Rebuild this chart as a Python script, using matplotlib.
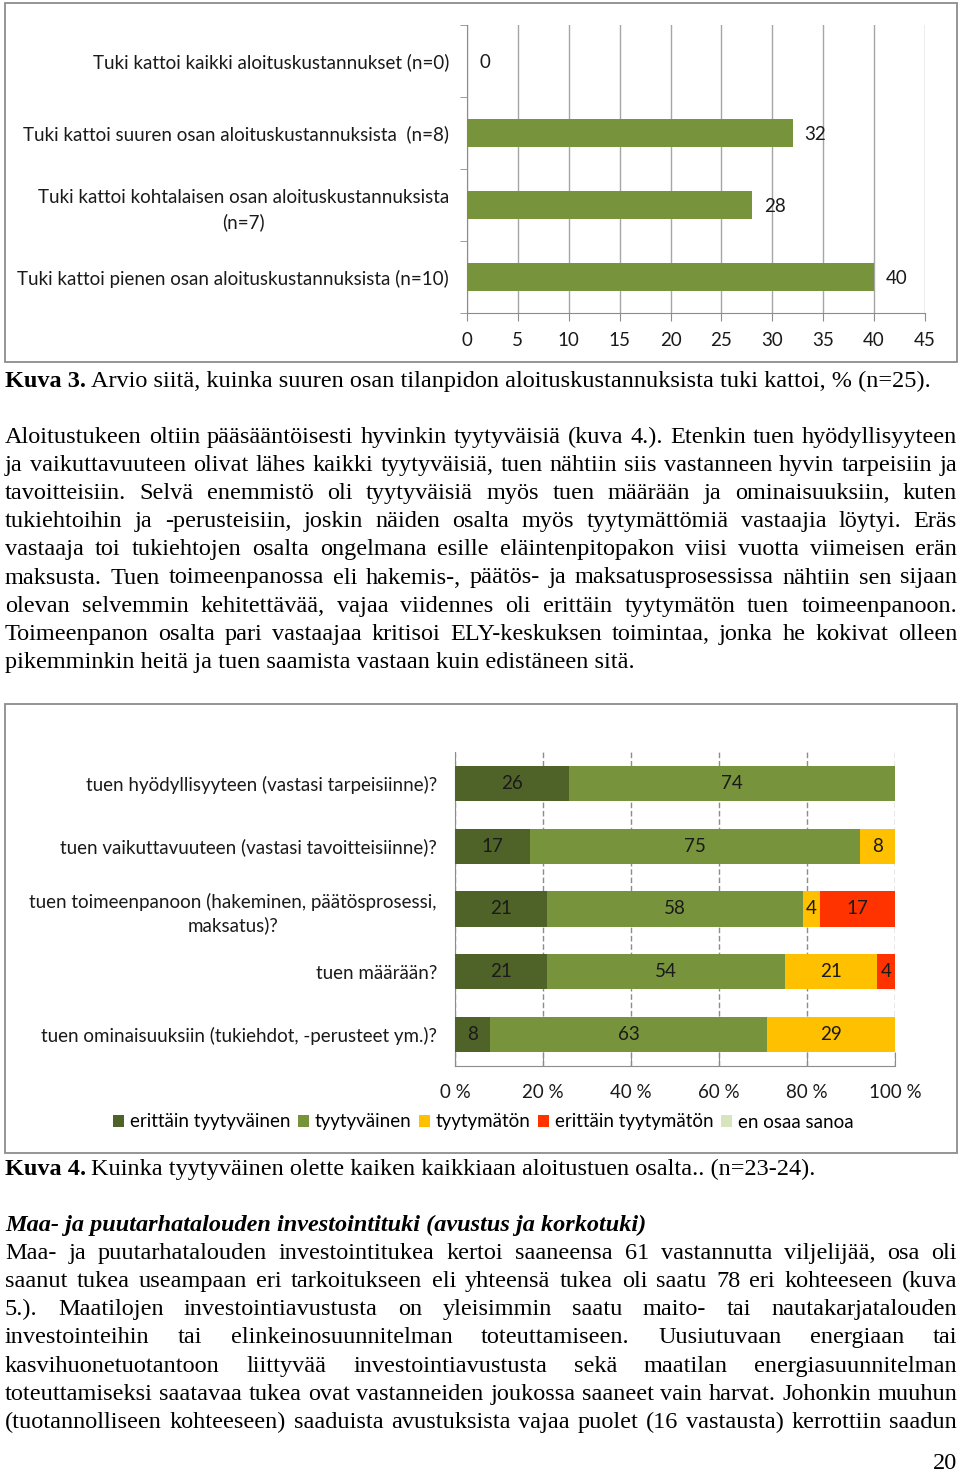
import numpy as np
import matplotlib
matplotlib.use("Agg")
import matplotlib.pyplot as plt
from matplotlib.patches import Rectangle, Patch

W, H = 960, 1473

# --- Kuva 3 data ---
cost_labels = [
    "Tuki kattoi kaikki aloituskustannukset (n=0)",
    "Tuki kattoi suuren osan aloituskustannuksista  (n=8)",
    "Tuki kattoi kohtalaisen osan aloituskustannuksista\n(n=7)",
    "Tuki kattoi pienen osan aloituskustannuksista (n=10)",
]
cost_values = [0, 32, 28, 40]
cost_ticks = [0, 5, 10, 15, 20, 25, 30, 35, 40, 45]

# --- Kuva 4 data ---
sat_labels = [
    "tuen hyödyllisyyteen (vastasi tarpeisiinne)?",
    "tuen vaikuttavuuteen (vastasi tavoitteisiinne)?",
    "tuen toimeenpanoon (hakeminen, päätösprosessi,\nmaksatus)?",
    "tuen määrään?",
    "tuen ominaisuuksiin (tukiehdot, -perusteet ym.)?",
]
sat_series = ["erittäin tyytyväinen", "tyytyväinen", "tyytymätön",
              "erittäin tyytymätön", "en osaa sanoa"]
very_satisfied = [26, 17, 21, 21, 8]
satisfied = [74, 75, 58, 54, 63]
unsatisfied = [0, 8, 4, 21, 29]
very_unsatisfied = [0, 0, 17, 4, 0]
dont_know = [0, 0, 0, 0, 0]
sat_ticks = [0, 20, 40, 60, 80, 100]
sat_colors = ["#4F6228", "#77933C", "#FFC000", "#FF3300", "#D7E4BD"]

# --- body text ---
para1 = [
    "Aloitustukeen oltiin pääsääntöisesti hyvinkin tyytyväisiä (kuva 4.). Etenkin tuen hyödyllisyyteen",
    "ja vaikuttavuuteen olivat lähes kaikki tyytyväisiä, tuen nähtiin siis vastanneen hyvin tarpeisiin ja",
    "tavoitteisiin. Selvä enemmistö oli tyytyväisiä myös tuen määrään ja ominaisuuksiin, kuten",
    "tukiehtoihin ja -perusteisiin, joskin näiden osalta myös tyytymättömiä vastaajia löytyi. Eräs",
    "vastaaja toi tukiehtojen osalta ongelmana esille eläintenpitopakon viisi vuotta viimeisen erän",
    "maksusta. Tuen toimeenpanossa eli hakemis-, päätös- ja maksatusprosessissa nähtiin sen sijaan",
    "olevan selvemmin kehitettävää, vajaa viidennes oli erittäin tyytymätön tuen toimeenpanoon.",
    "Toimeenpanon osalta pari vastaajaa kritisoi ELY-keskuksen toimintaa, jonka he kokivat olleen",
    "pikemminkin heitä ja tuen saamista vastaan kuin edistäneen sitä.",
]
para2 = [
    "Maa- ja puutarhatalouden investointitukea kertoi saaneensa 61 vastannutta viljelijää, osa oli",
    "saanut tukea useampaan eri tarkoitukseen eli yhteensä tukea oli saatu 78 eri kohteeseen (kuva",
    "5.). Maatilojen investointiavustusta on yleisimmin saatu maito- tai nautakarjatalouden",
    "investointeihin tai elinkeinosuunnitelman toteuttamiseen. Uusiutuvaan energiaan tai",
    "kasvihuonetuotantoon liittyvää investointiavustusta sekä maatilan energiasuunnitelman",
    "toteuttamiseksi saatavaa tukea ovat vastanneiden joukossa saaneet vain harvat. Johonkin muuhun",
    "(tuotannolliseen kohteeseen) saaduista avustuksista vajaa puolet (16 vastausta) kerrottiin saadun",
]

CHART_FONT = "Lato"
CHART_FS = 13.5
SERIF = "Liberation Serif"
BODY_FS = 17.5
TXT = "#1a1a1a"


def rect(l, t, r, b):
    """pixel box -> figure fraction"""
    return [l / W, 1 - b / H, (r - l) / W, (b - t) / H]


fig = plt.figure(figsize=(W / 100, H / 100), dpi=100)
page = fig.add_axes([0, 0, 1, 1])
page.set_xlim(0, W)
page.set_ylim(H, 0)
page.axis("off")
renderer = fig.canvas.get_renderer()

# chart frames
for (x, y, w, h) in [(5, 3, 952, 359), (5, 704, 952, 449)]:
    page.add_patch(Rectangle((x, y), w, h, fill=False, ec="#8c8c8c", lw=1.3))

# ---------------- Kuva 3 ----------------
ax1 = fig.add_axes(rect(467, 25, 925, 313))
ypos = np.arange(len(cost_values))
ax1.barh(ypos, cost_values, height=0.4, color="#77933C", zorder=3)
ax1.set_xlim(0, 45)
ax1.set_ylim(len(cost_values) - 0.5, -0.5)
ax1.set_xticks(cost_ticks)
ax1.set_yticks(ypos)
ax1.set_yticklabels(cost_labels, ha="right", multialignment="center",
                    linespacing=1.45)
ax1.set_yticks(np.arange(-0.5, len(cost_values)), minor=True)
ax1.tick_params(axis="y", which="major", length=0, pad=13)
ax1.tick_params(axis="y", which="minor", length=5, color="#8c8c8c", direction="out")
ax1.tick_params(axis="x", length=6, color="#8c8c8c", pad=8)
ax1.grid(axis="x", color="#a6a6a6", lw=1.0, zorder=0)
for s in ["top", "right"]:
    ax1.spines[s].set_visible(False)
for s in ["left", "bottom"]:
    ax1.spines[s].set_color("#8c8c8c")
for lab in ax1.get_xticklabels() + ax1.get_yticklabels():
    lab.set_fontfamily(CHART_FONT)
    lab.set_fontsize(CHART_FS)
    lab.set_color(TXT)
for y, v in zip(ypos, cost_values):
    ax1.annotate(str(v), (v, y), xytext=(12, -2), textcoords="offset pixels",
                 ha="left", va="center", fontfamily=CHART_FONT,
                 fontsize=CHART_FS, color=TXT)

# ---------------- Kuva 4 ----------------
ax2 = fig.add_axes(rect(455, 752, 895, 1066))
ypos2 = np.arange(len(sat_labels))
left = np.zeros(len(sat_labels))
series = [very_satisfied, satisfied, unsatisfied, very_unsatisfied, dont_know]
for vals, col in zip(series, sat_colors):
    vals = np.array(vals, dtype=float)
    ax2.barh(ypos2, vals, left=left, height=0.56, color=col, zorder=3)
    for y, l, v in zip(ypos2, left, vals):
        if v > 0:
            ax2.text(l + v / 2, y, f"{v:.0f}", ha="center", va="center",
                     fontfamily=CHART_FONT, fontsize=CHART_FS, color=TXT, zorder=4)
    left += vals
ax2.set_xlim(0, 100)
ax2.set_ylim(len(sat_labels) - 0.5, -0.5)
ax2.set_xticks(sat_ticks)
ax2.set_xticklabels([f"{t} %" for t in sat_ticks])
ax2.set_yticks(ypos2)
ax2.set_yticklabels(sat_labels, ha="right", multialignment="center",
                    linespacing=1.4)
ax2.tick_params(axis="y", length=0, pad=13)
ax2.tick_params(axis="x", length=10, direction="in", color="#8c8c8c", pad=13)
ax2.grid(axis="x", color="#8c8c8c", lw=1.0, ls=(0, (4, 2)), zorder=0)
for s in ["top", "right"]:
    ax2.spines[s].set_visible(False)
for s in ["left", "bottom"]:
    ax2.spines[s].set_color("#8c8c8c")
for lab in ax2.get_xticklabels() + ax2.get_yticklabels():
    lab.set_fontfamily(CHART_FONT)
    lab.set_fontsize(CHART_FS)
    lab.set_color(TXT)

handles = [Patch(facecolor=c, edgecolor="none") for c in sat_colors]
fig.legend(handles, sat_series, loc="center", bbox_to_anchor=(483 / W, 1 - 1122 / H),
           ncol=5, frameon=False, handlelength=0.6, handleheight=0.6,
           handletextpad=0.3, columnspacing=0.4,
           prop={"family": CHART_FONT, "size": CHART_FS})


# ---------------- text ----------------
def put_line(line, y, x0=5, x1=957, last=False, **kw):
    kw = {"fontfamily": SERIF, "fontsize": BODY_FS, "color": "black",
          "va": "baseline", **kw}
    if last:
        page.text(x0, y, line, **kw)
        return
    words = line.split(" ")
    texts = [page.text(0, y, w, **kw) for w in words]
    widths = [t.get_window_extent(renderer).width for t in texts]
    gap = (x1 - x0 - sum(widths)) / max(len(words) - 1, 1)
    x = x0
    for t, w in zip(texts, widths):
        t.set_x(x)
        x += w + gap


def caption(bold, rest, y):
    t = page.text(5, y, bold, fontfamily=SERIF, fontsize=BODY_FS, fontweight="bold",
                  va="baseline")
    w = t.get_window_extent(renderer).width
    page.text(5 + w + 5, y, rest, fontfamily=SERIF, fontsize=BODY_FS, va="baseline")


BASE = 7
caption("Kuva 3.", "Arvio siitä, kuinka suuren osan tilanpidon aloituskustannuksista tuki kattoi, % (n=25).",
        380 + BASE)
for i, line in enumerate(para1):
    put_line(line, 436 + i * 28.1 + BASE, last=(i == len(para1) - 1))

caption("Kuva 4.", "Kuinka tyytyväinen olette kaiken kaikkiaan aloitustuen osalta.. (n=23-24).",
        1168 + BASE)
page.text(5, 1224 + BASE, "Maa- ja puutarhatalouden investointituki (avustus ja korkotuki)",
          fontfamily=SERIF, fontsize=BODY_FS, fontweight="bold", fontstyle="italic",
          va="baseline")
for i, line in enumerate(para2):
    put_line(line, 1252 + i * 28.15 + BASE)

page.text(957, 1462 + BASE, "20", fontfamily=SERIF, fontsize=BODY_FS, ha="right",
          va="baseline")

fig.savefig("out.png", dpi=100)
